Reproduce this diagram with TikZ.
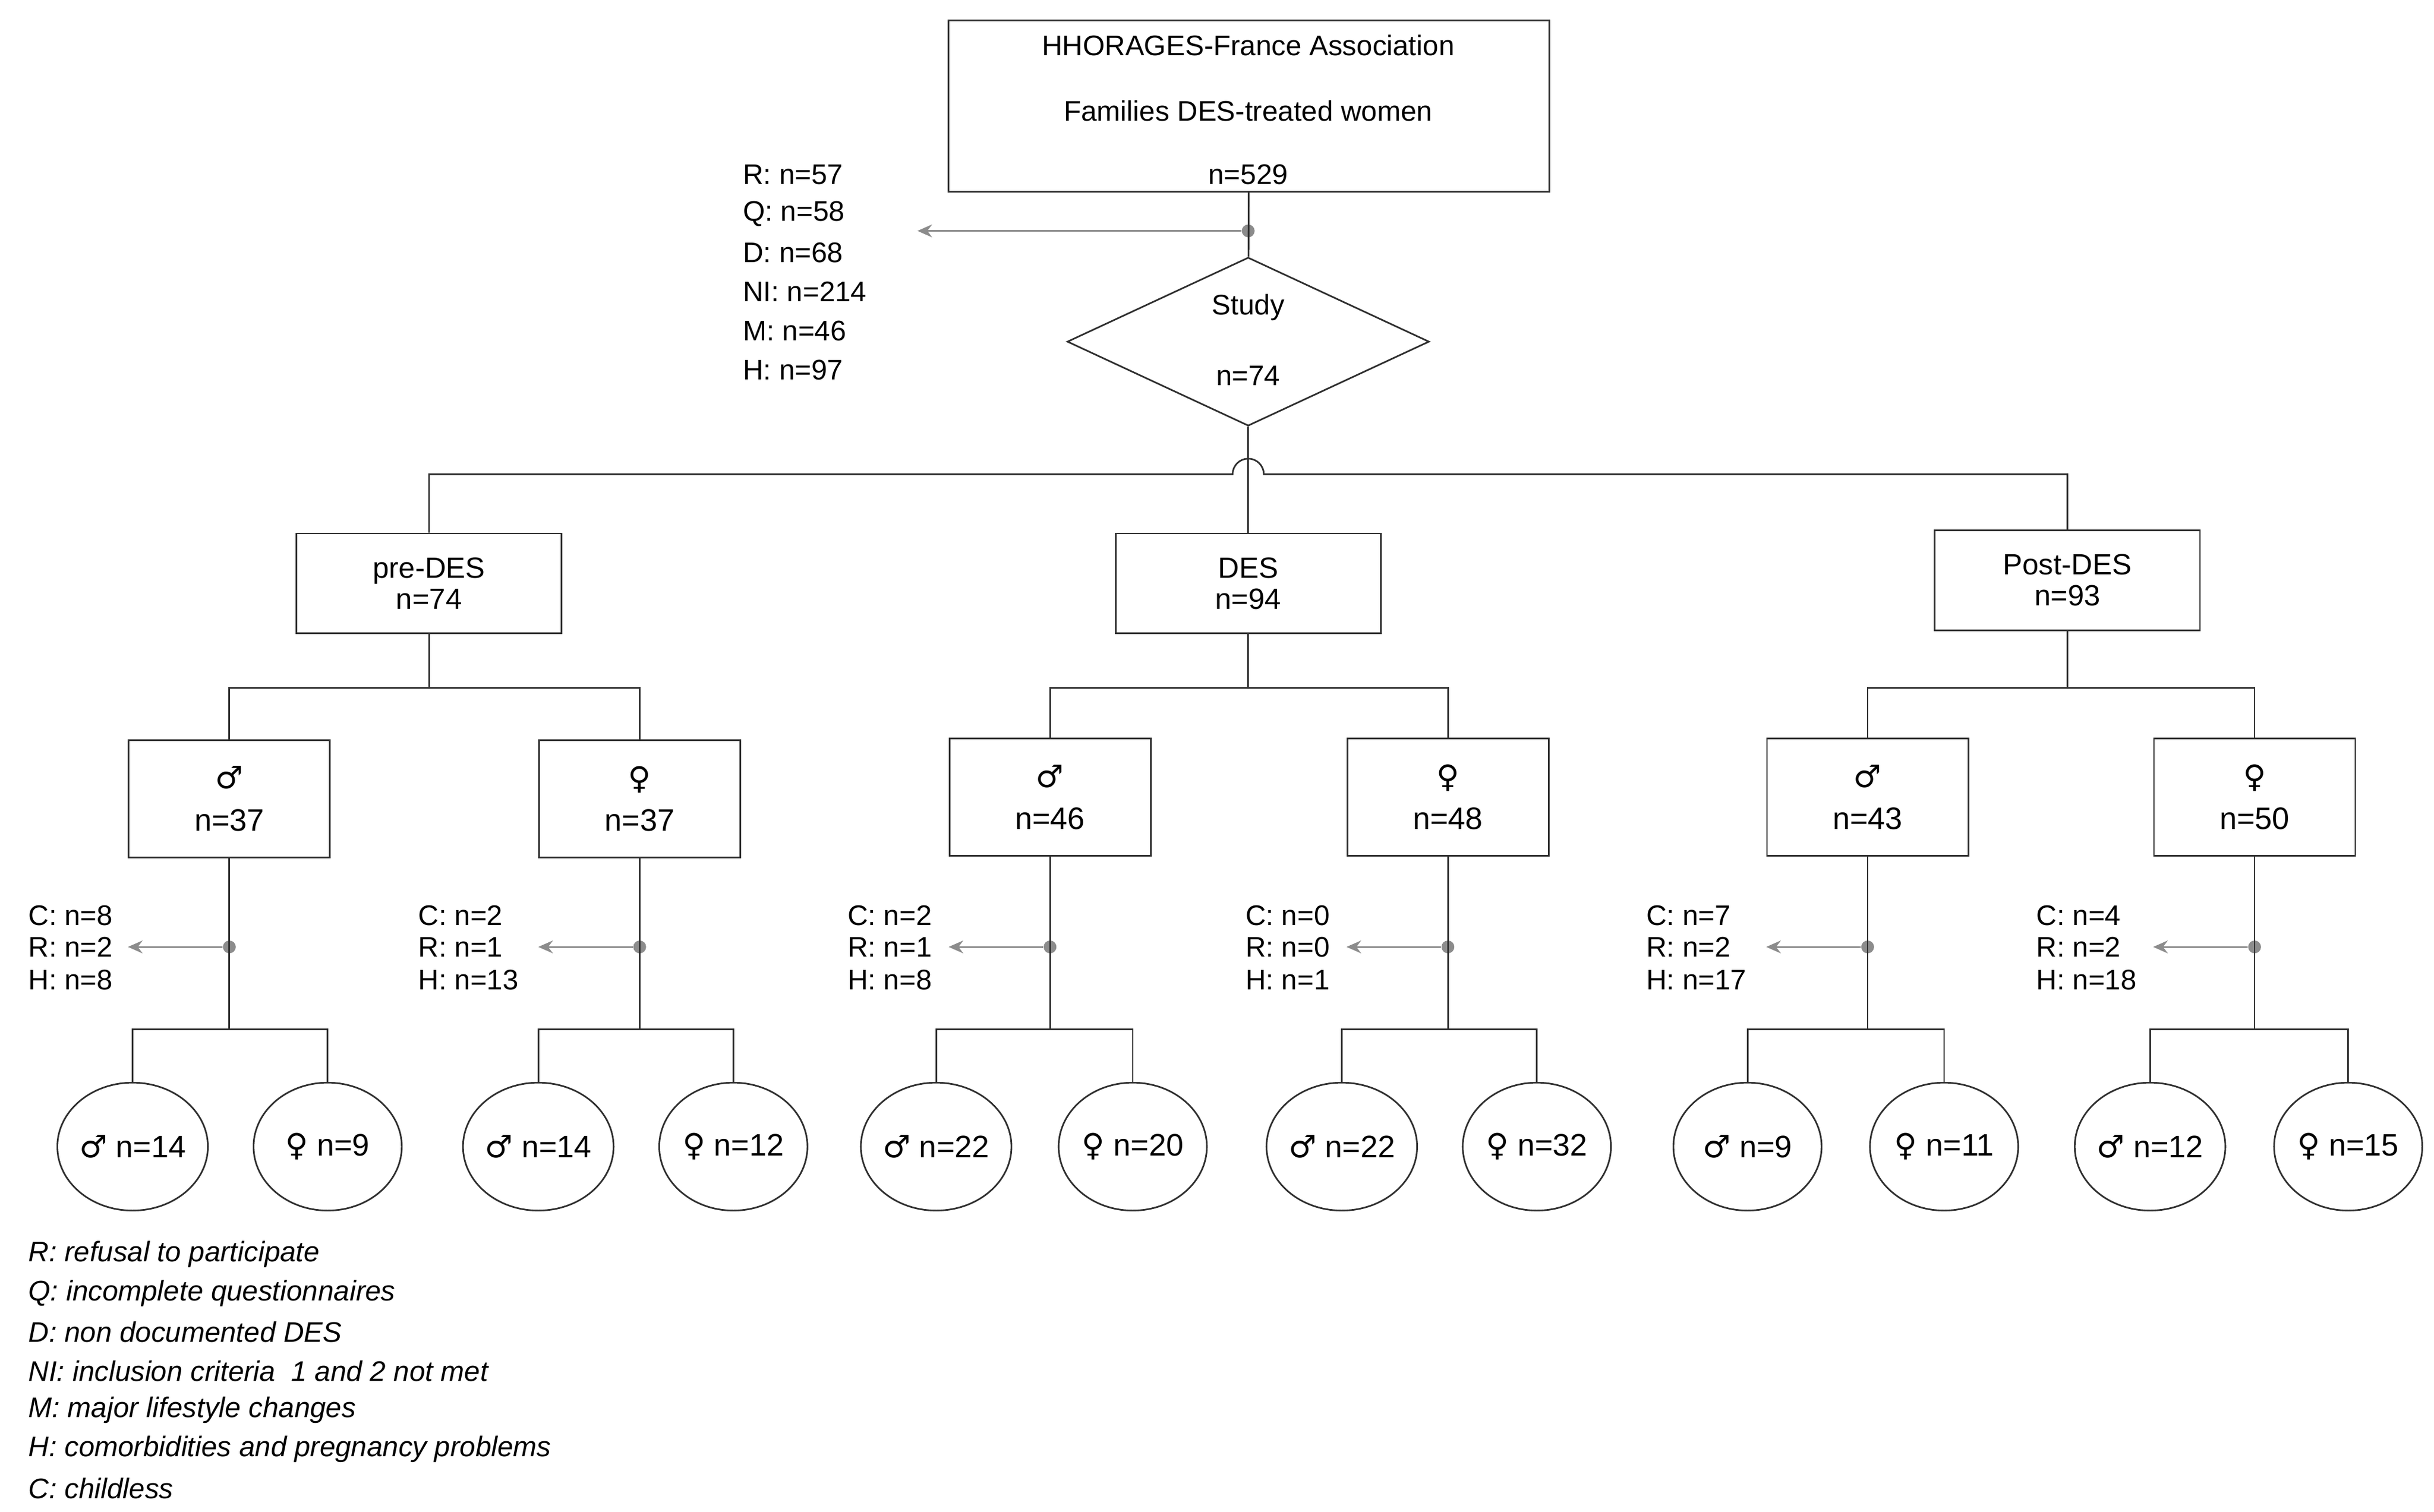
\documentclass[tikz,border=0pt]{standalone}
\usepackage{fontspec}
\setmainfont{Liberation Sans}
\newfontfamily\symfont{DejaVu Sans}
\usetikzlibrary{positioning,shapes.geometric,arrows.meta}
\definecolor{lgray}{HTML}{8C8C8C}
\definecolor{dline}{HTML}{303030}
\tikzset{
  box/.style={draw=dline,line width=0.9pt,fill=white,align=center,inner sep=0pt},
  leaf/.style={draw=dline,line width=0.9pt,ellipse,minimum width=2.85cm,minimum height=2.46cm,inner sep=0pt,font=\fontsize{17}{19}\selectfont},
  gbox/.style={box,minimum width=3.87cm,minimum height=2.25cm,font=\fontsize{17}{23}\selectfont},
  lvl/.style={box,minimum width=5.1cm,minimum height=1.92cm,font=\fontsize{16}{17}\selectfont},
  link/.style={draw=dline,line width=0.9pt},
  drop/.style={draw=lgray,line width=0.9pt,-{Stealth[length=8pt,width=7pt]}},
  dot/.style={circle,fill=lgray,inner sep=0pt,minimum size=7pt},
  small/.style={font=\fontsize{15.5}{17}\selectfont,anchor=west,inner sep=0pt},
  lgd/.style={font=\fontsize{15.5}{17}\itshape\selectfont,anchor=west,inner sep=0pt}
}
\newcommand{\male}{{\symfont\char"2642}}
\newcommand{\female}{{\symfont\char"2640}}
\begin{document}
\begin{tikzpicture}[x=0.03cm,y=-0.03cm]
\useasboundingbox (0,0) rectangle (1560,969);

% top of the chart
\node[box,minimum width=11.55cm,minimum height=3.3cm] (assoc) at (800.5,68) {};
\node[small,anchor=center] (assoc1) at (800,29) {HHORAGES-France Association};
\node[small,anchor=center] (assoc2) at (800,71) {Families DES-treated women};
\node[small,anchor=center] (assoc3) at (800,112) {n=529};
\node[dot] (d0) at (800,148) {};
\coordinate (e0) at (588,148);
\node[draw=dline,line width=0.9pt,diamond,minimum width=6.96cm,minimum height=3.24cm,inner sep=0pt] (study) at (800,219) {};
\node[small,anchor=center] (study1) at (800,197) {Study};
\node[small,anchor=center] (study2) at (800,241) {n=74};
\draw[link] (assoc) -- (study);
\draw[drop] (d0) -- (e0);
\foreach \t [count=\i] in {R: n=57,Q: n=58,D: n=68,NI: n=214,M: n=46,H: n=97}
  \node[small] (ex\i) at (476,87+25*\i) {\t};

% second level
\node[lvl] (pre) at (275,374) {pre-DES\\n=74};
\node[lvl] (des) at (800,374) {DES\\n=94};
\node[lvl] (post) at (1325,372) {Post-DES\\n=93};
\draw[link] (study) -- (des);
\draw[link] (pre.north) -- (pre.north |- 0,304) -- (790,304) arc (180:360:10) -- (post.north |- 0,304) -- (post.north);

% third level
\node[gbox] (pm) at (147,512) {\male\\n=37};
\node[gbox] (pf) at (410,512) {\female\\n=37};
\node[gbox] (dm) at (673,511) {\male\\n=46};
\node[gbox] (df) at (928,511) {\female\\n=48};
\node[gbox] (qm) at (1197,511) {\male\\n=43};
\node[gbox] (qf) at (1445,511) {\female\\n=50};
\foreach \p/\a/\b in {pre/pm/pf,des/dm/df,post/qm/qf}
  \draw[link] (\p.south) -- (\p.south |- 0,441) (\a.north) -- (\a.north |- 0,441) -| (\b.north);

% exclusions and leaves
\foreach \g/\tx/\lc/\rc/\ml/\fl/\nc/\nr/\nh in {
  pm/18/85/210/14/9/8/2/8,
  pf/268/345/470/14/12/2/1/13,
  dm/543/600/726/22/20/2/1/8,
  df/798/860/985/22/32/0/0/1,
  qm/1055/1120/1246/9/11/7/2/17,
  qf/1305/1378/1505/12/15/4/2/18}{
  \node[dot] (\g d) at (\g.south |- 0,607) {};
  \coordinate (\g e) at ([xshift=-1.95cm]\g d);
  \node[leaf] (\g m) at (\lc,735) {\male\ n=\ml};
  \node[leaf] (\g f) at (\rc,735) {\female\ n=\fl};
  \draw[link] (\g.south) -- (\g.south |- 0,660);
  \draw[link] (\g m.north) -- (\g m.north |- 0,660) -| (\g f.north);
  \draw[drop] (\g d) -- (\g e);
  \node[small] (\g c) at (\tx,587) {C: n=\nc};
  \node[small] (\g r) at (\tx,607) {R: n=\nr};
  \node[small] (\g h) at (\tx,628) {H: n=\nh};
}

% legend
\foreach \t [count=\i] in {R: refusal to participate,Q: incomplete questionnaires,D: non documented DES,NI: inclusion criteria\ \ 1 and 2 not met,M: major lifestyle changes,H: comorbidities and pregnancy problems,C: childless}
  \node[lgd] (lg\i) at (18,779+25*\i) {\t};
\end{tikzpicture}
\end{document}
